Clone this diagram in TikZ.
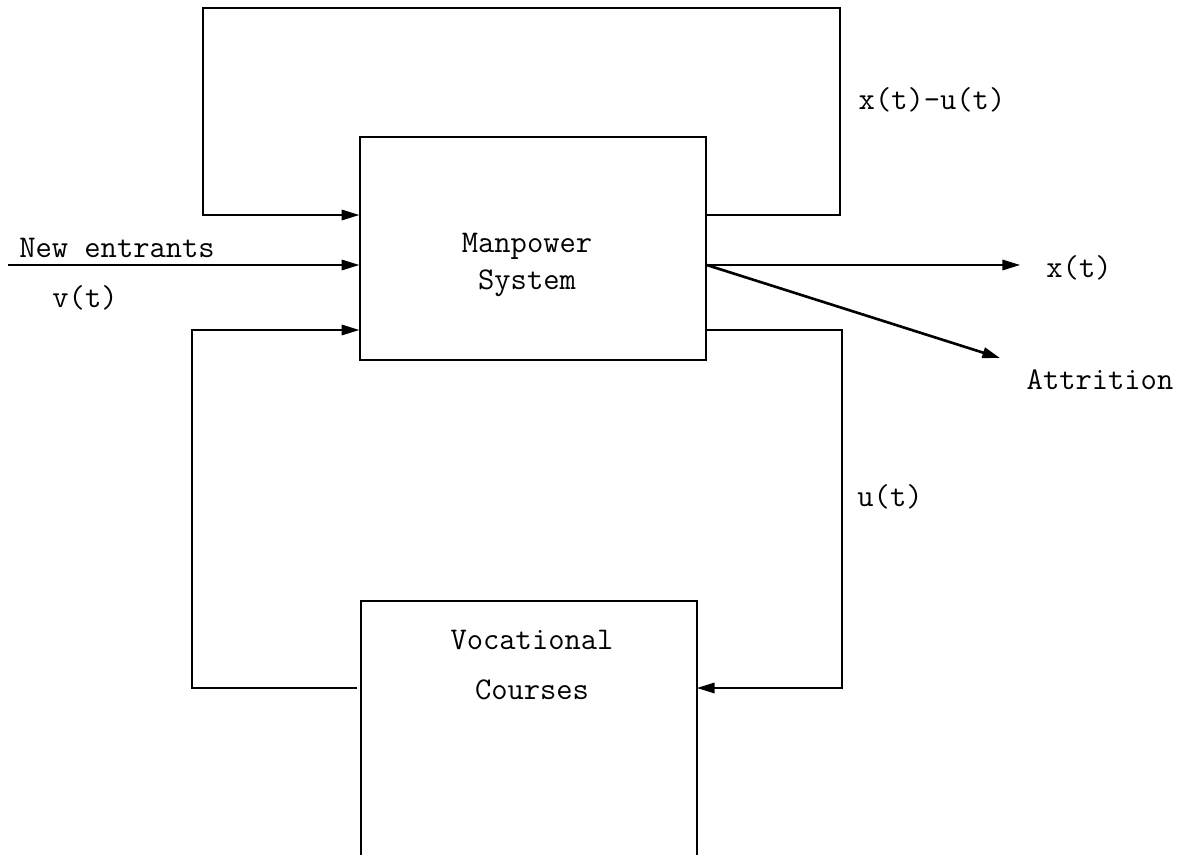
\documentclass[tikz,border=0pt]{standalone}
\usetikzlibrary{arrows.meta,positioning}
\tikzset{
  block/.style={draw, line width=0.9pt, minimum width=6.92cm, minimum height=4.46cm},
  wire/.style={line width=0.9pt},
  arr/.style={wire, -{Triangle[length=10pt,width=6pt]}},
  lab/.style={font=\ttfamily\fontsize{18}{21}\selectfont, align=center, inner sep=0pt}
}

\begin{document}
\begin{tikzpicture}[x=0.02cm,y=-0.02cm]
\useasboundingbox (0,0) rectangle (1190,855);

% Manpower system
\node[block] (mps) at (533,248.5) {};
\node[lab] (mpslab) at (527,265) {Manpower\\System};

% Vocational courses (open at the bottom)
\coordinate (vcbl) at (361,855);
\coordinate (vcbr) at (697,855);
\coordinate (vcw) at (357,688);
\coordinate (vce) at (697,688);
\draw[wire] (vcbl) |- (697,601) -- (vcbr);
\node[lab] (vc) at (532,665) {Vocational\\[7pt]Courses};

% Loop corners
\coordinate (tl) at (203,8);
\coordinate (tr) at (840,8);
\coordinate (bl) at (192,330);
\coordinate (br) at (842,688);
\coordinate (ne) at (8,265);

% Feedback x(t)-u(t)
\draw[arr] (mps.east |- 0,215) -| (tr) -| (203,215) -- (mps.west |- 0,215);
\node[lab] (xu) at (932,100) {x(t)-u(t)};

% New entrants
\draw[arr] (ne) -- (mps.west |- ne);
\node[lab] (nelab) at (117,248) {New entrants};
\node[lab] (vt) at (85,298) {v(t)};

% Outputs
\node[lab] (xt) at (1079,268) {x(t)};
\node[lab] (att) at (1100,380) {Attrition};
\coordinate (xtend) at (1020,265);
\coordinate (attend) at (1000,358);
\draw[arr] (mps.east |- ne) -- (xtend);
\draw[arr, line width=1.5pt] (mps.east |- ne) -- (attend);

% Courses loop
\draw[arr] (mps.east |- bl) -| (br) -- (vce);
\node[lab] (ut) at (890,497) {u(t)};
\draw[arr] (vcw) -| (bl) -- (mps.west |- bl);
\end{tikzpicture}
\end{document}
